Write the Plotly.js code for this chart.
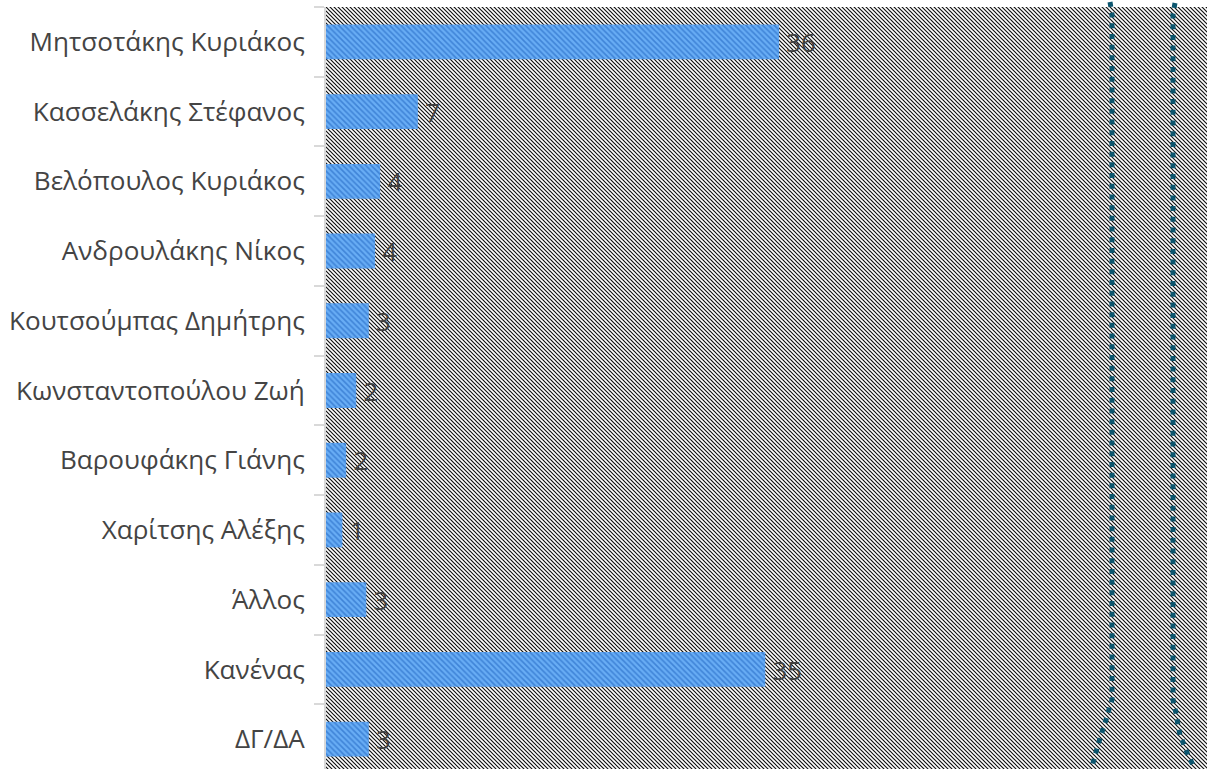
<!DOCTYPE html>
<html>
<head>
<meta charset="utf-8">
<script src="https://cdn.plot.ly/plotly-3.0.1.min.js"></script>
<style>
html, body { margin: 0; padding: 0; overflow: hidden; background: #ffffff; }
#chart { width: 1207px; height: 774px; }
</style>
</head>
<body>
<div id="chart"></div>
<script>
// ---- data ----
const categories = [
  "Μητσοτάκης Κυριάκος",
  "Κασσελάκης Στέφανος",
  "Βελόπουλος Κυριάκος",
  "Ανδρουλάκης Νίκος",
  "Κουτσούμπας Δημήτρης",
  "Κωνσταντοπούλου Ζωή",
  "Βαρουφάκης Γιάνης",
  "Χαρίτσης Αλέξης",
  "Άλλος",
  "Κανένας",
  "ΔΓ/ΔΑ"
];
const values = [36.0, 7.3, 4.3, 3.9, 3.4, 2.4, 1.6, 1.3, 3.2, 34.9, 3.4];
const valueLabels = ["36", "7", "4", "4", "3", "2", "2", "1", "3", "35", "3"];

// ---- layout helpers (decoration) ----
const W = 1207, H = 774, ML = 326, MT = 7, MR = 0, MB = 0;
const PW = W - ML - MR, PH = H - MT - MB;
function px2paper(pts) {
  return pts.map((p, i) => (i === 0 ? "M" : "L") +
    ((p[0] - ML) / PW).toFixed(5) + "," + ((H - MB - p[1]) / PH).toFixed(5)).join(" ");
}
const leftArc = [[1110,2],[1112,14],[1112,700],[1110,706],[1108,713],[1105,723],[1101,735],[1098,745],[1093,763],[1090,774]];
const rightArc = [[1175,3],[1173,14],[1173,700],[1174,705],[1176,713],[1178,725],[1180,735],[1184,745],[1188,755],[1193,765],[1196,774]];

const svg = '<svg xmlns="http://www.w3.org/2000/svg" width="' + PW + '" height="' + PH + '">' +
  '<defs><pattern id="p" patternUnits="userSpaceOnUse" width="4" height="4">' +
  '<rect width="4" height="4" fill="#ffffff"/>' +
  '<path d="M-1,-1 L5,5 M-1,3 L1,5 M3,-1 L5,1" stroke="#111111" stroke-width="1.2"/>' +
  '</pattern></defs><rect width="100%" height="100%" fill="url(#p)"/></svg>';
const bgImage = "data:image/svg+xml;base64," + btoa(svg);

const trace = {
  type: "bar",
  orientation: "h",
  y: categories,
  x: values,
  text: valueLabels,
  texttemplate: "\u2009%{text}",
  textposition: "outside",
  cliponaxis: false,
  textfont: { family: "Open Sans, sans-serif", size: 28, color: "#404040" },
  marker: {
    color: "#63a9f3",
    line: { width: 0 },
    pattern: { shape: "\\", size: 4, solidity: 0.4, fgcolor: "#3f84d8", bgcolor: "#68adf5", fillmode: "replace" }
  },
  hoverinfo: "none"
};

const dotLine = { color: "#0c566f", width: 5, dash: "5px,5.7px" };

const layout = {
  width: W,
  height: H,
  margin: { l: ML, r: MR, t: MT, b: MB, pad: 0 },
  paper_bgcolor: "#ffffff",
  plot_bgcolor: "rgba(0,0,0,0)",
  showlegend: false,
  bargap: 0.5,
  xaxis: {
    range: [0, 70],
    visible: false,
    showgrid: false,
    zeroline: false,
    fixedrange: true
  },
  yaxis: {
    autorange: "reversed",
    type: "category",
    showline: true,
    linecolor: "#d9d9d9",
    linewidth: 2,
    ticks: "outside",
    ticklen: 10,
    tickwidth: 2,
    tickcolor: "#d9d9d9",
    tickson: "boundaries",
    ticklabelstandoff: 14,
    showgrid: false,
    zeroline: false,
    automargin: false,
    tickfont: { family: "Open Sans, sans-serif", size: 26.1, color: "#444444" },
    fixedrange: true
  },
  images: [{
    source: bgImage,
    xref: "paper", yref: "paper",
    x: 0, y: 1, sizex: 1, sizey: 1,
    xanchor: "left", yanchor: "top",
    sizing: "stretch",
    layer: "below"
  }],
  shapes: [
    { type: "path", xref: "paper", yref: "paper", path: px2paper(leftArc), line: dotLine, layer: "above" },
    { type: "path", xref: "paper", yref: "paper", path: px2paper(rightArc), line: dotLine, layer: "above" }
  ]
};

Plotly.newPlot("chart", [trace], layout, { staticPlot: true, displayModeBar: false });
</script>
</body>
</html>
